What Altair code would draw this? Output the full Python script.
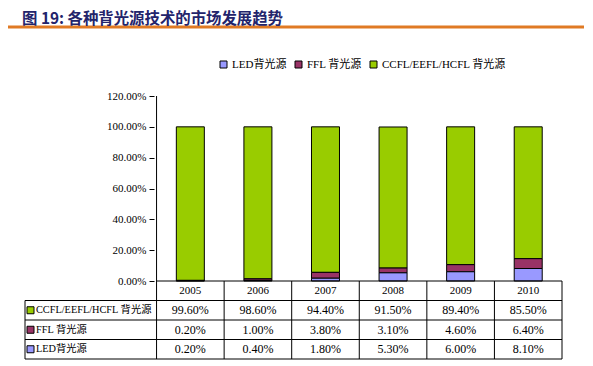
import altair as alt
import pandas as pd

# ---------------- data ----------------
years = ["2005", "2006", "2007", "2008", "2009", "2010"]
series_names = ["CCFL/EEFL/HCFL 背光源", "FFL 背光源", "LED背光源"]
ccfl = [99.6, 98.6, 94.4, 91.5, 89.4, 85.5]
ffl = [0.2, 1.0, 3.8, 3.1, 4.6, 6.4]
led = [0.2, 0.4, 1.8, 5.3, 6.0, 8.1]
series_colors = ["#99CC00", "#993366", "#9999FF"]
y_ticks = [0, 20, 40, 60, 80, 100, 120]
title_text = "图 19: 各种背光源技术的市场发展趋势"

# ---------------- layout constants ----------------
PLOT_W = 547
PLOT_H = 263
COL_PX = 413 / 6.0            # width of one year column in px
LABEL_COLS = 134 / COL_PX     # label column width in column units
Y_PX = 185 / 120.0            # px per percent unit
ROW = 19.5 / Y_PX             # table row height in percent units
XMIN = -LABEL_COLS
YMIN = -4 * ROW

FONT = "Liberation Serif, Noto Sans CJK SC"

# ---------------- tables ----------------
values = [ccfl, ffl, led]
stack_order = {series_names[0]: 2, series_names[1]: 1, series_names[2]: 0}
rows = []
for r, (name, vals) in enumerate(zip(series_names, values)):
    for c, (yr, v) in enumerate(zip(years, vals)):
        rows.append({
            "year": yr, "xc": c + 0.5, "series": name, "value": v,
            "order": stack_order[name],
            "ty": -(r + 1.5) * ROW,
            "label": f"{v:.2f}%",
        })
df = pd.DataFrame(rows)

year_df = pd.DataFrame({"year": years, "xc": [i + 0.5 for i in range(len(years))],
                        "ty": [-0.5 * ROW] * len(years)})
label_df = pd.DataFrame({"series": series_names, "x": [XMIN] * 3,
                         "ty": [-(r + 1.5) * ROW for r in range(3)]})

segs = []
segs.append({"x": 0, "x2": 6, "y": 0, "y2": 0})
for k in range(1, 5):
    segs.append({"x": XMIN, "x2": 6, "y": -k * ROW, "y2": -k * ROW})
segs.append({"x": XMIN, "x2": XMIN, "y": -ROW, "y2": YMIN})
segs.append({"x": 0, "x2": 0, "y": 120, "y2": YMIN})
for k in range(1, 7):
    segs.append({"x": k, "x2": k, "y": 0, "y2": YMIN})
seg_df = pd.DataFrame(segs)

xscale = alt.Scale(domain=[XMIN, 6], nice=False, zero=False)
yscale = alt.Scale(domain=[YMIN, 120], nice=False, zero=False)

legend_order = [series_names[2], series_names[1], series_names[0]]
color_scale = alt.Scale(domain=legend_order,
                        range=[series_colors[2], series_colors[1], series_colors[0]])

bars = alt.Chart(df).mark_bar(size=28, stroke="black", strokeWidth=1).encode(
    x=alt.X("xc:Q", scale=xscale, axis=None),
    y=alt.Y("value:Q", stack="zero", scale=yscale,
            axis=alt.Axis(values=y_ticks, labelExpr="format(datum.value, '.2f') + '%'",
                          domain=False, grid=False, offset=-134, tickSize=5,
                          tickColor="black", labelColor="black", labelFont=FONT,
                          labelFontSize=11, labelPadding=3, title=None)),
    color=alt.Color("series:N", scale=color_scale,
                    legend=alt.Legend(orient="none", legendX=198, legendY=-37,
                                      direction="horizontal", title=None,
                                      symbolType="square", symbolSize=49,
                                      symbolStrokeColor="black", symbolStrokeWidth=1,
                                      labelFont=FONT, labelFontSize=11,
                                      labelColor="black", labelOffset=3,
                                      columnPadding=6, padding=0)),
    order=alt.Order("order:Q"),
)

grid = alt.Chart(seg_df).mark_rule(color="black", strokeWidth=1).encode(
    x=alt.X("x:Q", scale=xscale), x2="x2:Q",
    y=alt.Y("y:Q", scale=yscale), y2="y2:Q",
)

year_text = alt.Chart(year_df).mark_text(font=FONT, fontSize=11, color="black").encode(
    x=alt.X("xc:Q", scale=xscale), y=alt.Y("ty:Q", scale=yscale), text="year:N")

value_text = alt.Chart(df).mark_text(font=FONT, fontSize=12, color="black").encode(
    x=alt.X("xc:Q", scale=xscale), y=alt.Y("ty:Q", scale=yscale), text="label:N")

row_labels = alt.Chart(label_df).mark_text(font=FONT, fontSize=10.3, color="black",
                                           align="left", dx=11).encode(
    x=alt.X("x:Q", scale=xscale), y=alt.Y("ty:Q", scale=yscale), text="series:N")

row_squares = alt.Chart(label_df).mark_square(size=49, opacity=1, stroke="black",
                                              strokeWidth=1).encode(
    x=alt.X("x:Q", scale=xscale), y=alt.Y("ty:Q", scale=yscale),
    xOffset=alt.value(5.5),
    fill=alt.Color("series:N", scale=color_scale, legend=None),
)

orange = alt.Chart(pd.DataFrame({"k": [0]})).mark_rule(color="#E07A24", strokeWidth=3).encode(
    x=alt.value(-12), x2=alt.value(590), y=alt.value(-69))

chart = alt.layer(orange, bars, grid, year_text, value_text, row_labels, row_squares).properties(
    width=PLOT_W, height=PLOT_H,
    title=alt.Title(title_text, anchor="start", font="Noto Sans CJK SC", fontSize=15.4,
                    fontWeight="bold", color="#23246B", frame="group", offset=-2, dx=2),
    autosize=alt.AutoSizeParams(type="none"),
    padding={"left": 12, "top": 88, "right": 17, "bottom": 5},
    background="white",
).configure_view(strokeWidth=0, stroke="transparent")

chart.save("out.html", embed_options={"renderer": "svg", "actions": False})
